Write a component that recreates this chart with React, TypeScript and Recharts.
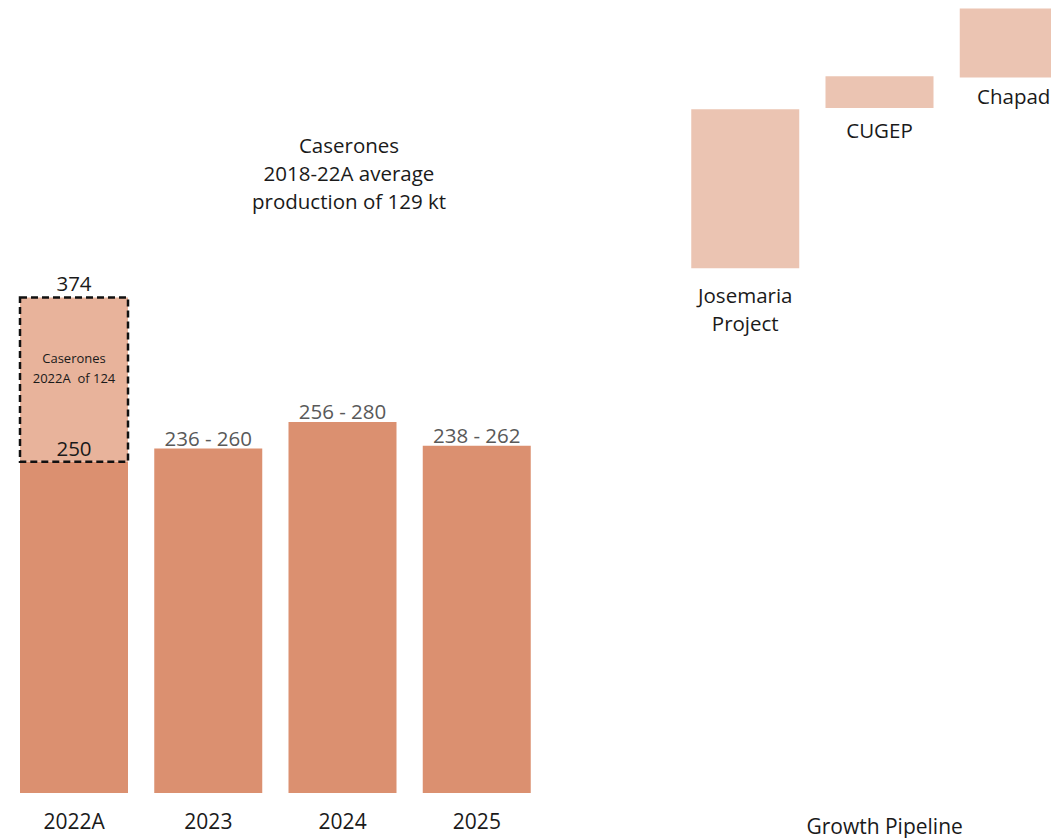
import { BarChart, Bar, XAxis, YAxis, LabelList, Cell } from 'recharts'

const categories = ['2022A', '2023', '2024', '2025', '', 'Josemaria Project', 'CUGEP', 'Chapad']
const axisLabels = ['2022A', '2023', '2024', '2025', '', '', 'Growth Pipeline', '']
const baseValues = [0, 0, 0, 0, 0, 396, 517, 540]
const coreValues = [250, 260, 280, 262, 0, 0, 0, 0]
const caseronesValues = [124, 0, 0, 0, 0, 0, 0, 0]
const pipelineValues = [0, 0, 0, 0, 0, 120, 24, 52]
const coreLabels = ['250', '236 - 260', '256 - 280', '238 - 262', '', '', '', '']
const totalLabel = '374'

const data = categories.map((name, i) => ({
  name,
  axis: axisLabels[i],
  base: baseValues[i],
  core: coreValues[i],
  caserones: caseronesValues[i],
  pipeline: pipelineValues[i],
  coreLabel: coreLabels[i],
}))

const FONT = "'Open Sans', sans-serif"

const AxisTick = (props: any) => {
  const { x, y, payload, index } = props
  const label = axisLabels[index] ?? payload.value
  if (!label) return null
  const isPipe = label === 'Growth Pipeline'
  return (
    <text x={x + (isPipe ? 5 : 0)} y={y + (isPipe ? 33 : 28)} textAnchor="middle" fontSize={21} fill="#1a1a1a" fontFamily={FONT}>
      {label}
    </text>
  )
}

const CoreLabel = (props: any) => {
  const { x, y, width, value, index } = props
  if (!value) return null
  const first = index === 0
  return (
    <text x={x + width / 2} y={y - (first ? 6 : 3)} textAnchor="middle" fontSize={20.5} fill={first ? '#1a1a1a' : '#595959'} fontFamily={FONT}>
      {value}
    </text>
  )
}

const CaseronesLabel = (props: any) => {
  const { x, y, width, height } = props
  if (!height) return null
  const cx = x + width / 2
  return (
    <g fontFamily={FONT}>
      <text x={cx} y={y - 6} textAnchor="middle" fontSize={20.5} fill="#1a1a1a">{totalLabel}</text>
      <text x={cx} y={y + 66} textAnchor="middle" fontSize={13} fill="#1a1a1a">Caserones</text>
      <text x={cx} y={y + 86} textAnchor="middle" fontSize={13} fill="#1a1a1a" style={{ whiteSpace: 'pre' }}>2022A  of 124</text>
    </g>
  )
}

const pipeOffsets: Record<string, number> = { 'Josemaria Project': 35, CUGEP: 30, Chapad: 26 }

const PipelineLabel = (props: any) => {
  const { x, y, width, height, value } = props
  if (!value || !height) return null
  const cx = x + width / 2
  const bottom = y + height
  const lines = value === 'Josemaria Project' ? ['Josemaria', 'Project'] : [value]
  return (
    <g fontFamily={FONT}>
      {lines.map((l: string, i: number) => (
        <text key={l} x={cx} y={bottom + pipeOffsets[value] + i * 28} textAnchor="middle" fontSize={20.5} fill="#1a1a1a">{l}</text>
      ))}
    </g>
  )
}

export default function App() {
  return (
    <div style={{ position: 'fixed', left: 0, top: 0, width: 1051, height: 838, overflow: 'hidden', background: '#fff', fontFamily: FONT }}>
      <div style={{ position: 'absolute', left: 0, top: -2 }}>
        <BarChart width={1090} height={840} data={data} margin={{ top: 0, right: 9, bottom: 0, left: 7 }} barSize={108}>
          <XAxis dataKey="name" height={45} axisLine={false} tickLine={false} interval={0} tick={<AxisTick />} />
          <YAxis hide type="number" domain={[0, 600]} />
          <Bar dataKey="base" stackId="a" fill="transparent" isAnimationActive={false} />
          <Bar dataKey="core" stackId="a" fill="#DB9070" isAnimationActive={false}>
            <LabelList dataKey="coreLabel" content={<CoreLabel />} />
          </Bar>
          <Bar dataKey="caserones" stackId="a" fill="#E8B39B" stroke="#111" strokeWidth={2.5} strokeDasharray="7 4" isAnimationActive={false}>
            {data.map((d, i) => <Cell key={i} />)}
            <LabelList dataKey="caserones" content={<CaseronesLabel />} />
          </Bar>
          <Bar dataKey="pipeline" stackId="a" fill="#EBC4B2" isAnimationActive={false}>
            <LabelList dataKey="name" content={<PipelineLabel />} />
          </Bar>
          <text x={349} y={155} textAnchor="middle" fontSize={20.5} fill="#1a1a1a" fontFamily={FONT}>Caserones</text>
          <text x={349} y={183} textAnchor="middle" fontSize={20.5} fill="#1a1a1a" fontFamily={FONT}>2018-22A average</text>
          <text x={349} y={211} textAnchor="middle" fontSize={20.5} fill="#1a1a1a" fontFamily={FONT}>production of 129 kt</text>
        </BarChart>
      </div>
    </div>
  )
}
